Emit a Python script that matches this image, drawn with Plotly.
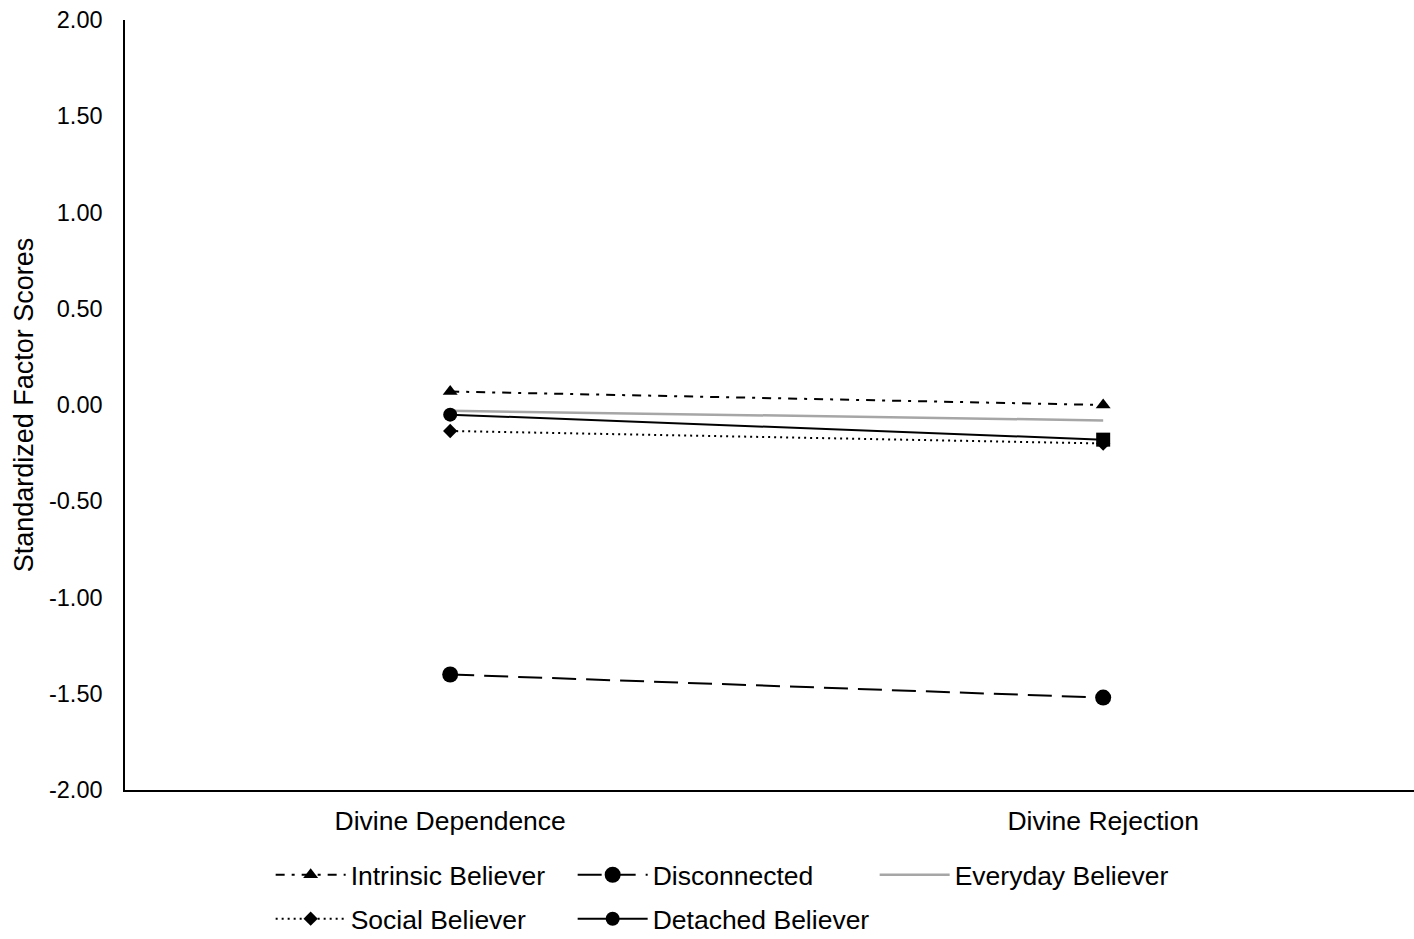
import plotly.graph_objects as go

categories = ["Divine Dependence", "Divine Rejection"]

intrinsic = [0.07, 0.00]
disconnected = [-1.40, -1.52]
everyday = [-0.03, -0.08]
social = [-0.135, -0.20]
detached = [-0.05, -0.18]

y_ticks = [-2.0, -1.5, -1.0, -0.5, 0.0, 0.5, 1.0, 1.5, 2.0]
y_tick_labels = [f"{v:.2f}" for v in y_ticks]

FONT = "Liberation Sans, Arial, sans-serif"
TEXT_SIZE = 26.5

fig = go.Figure()

fig.add_trace(go.Scatter(
    x=categories, y=intrinsic, name="Intrinsic Believer", mode="lines+markers",
    line=dict(color="black", width=2, dash="9px,7px,3px,7px"),
    marker=dict(symbol="triangle-up", size=13, color="black"),
    legend="legend",
))
fig.add_trace(go.Scatter(
    x=categories, y=disconnected, name="Disconnected", mode="lines+markers",
    line=dict(color="black", width=2, dash="24px,10px"),
    marker=dict(symbol="circle", size=16, color="black"),
    legend="legend",
))
fig.add_trace(go.Scatter(
    x=categories, y=everyday, name="Everyday Believer", mode="lines",
    line=dict(color="#a6a6a6", width=2.5),
    legend="legend",
))
fig.add_trace(go.Scatter(
    x=categories, y=social, name="Social Believer", mode="lines+markers",
    line=dict(color="black", width=2, dash="2px,4px"),
    marker=dict(symbol="diamond", size=11, color="black"),
    legend="legend2",
))
fig.add_trace(go.Scatter(
    x=categories, y=detached, name="Detached Believer", mode="lines+markers",
    line=dict(color="black", width=2),
    marker=dict(symbol=["circle", "square"], size=14, color="black"),
    legend="legend2",
))

legend_common = dict(
    orientation="h", xanchor="left", yanchor="middle",
    font=dict(family=FONT, size=TEXT_SIZE, color="black"),
    itemwidth=70, entrywidth=217, entrywidthmode="pixels",
    bgcolor="rgba(0,0,0,0)", tracegroupgap=0,
)

fig.update_layout(
    width=1414, height=939,
    margin=dict(l=125, r=0, t=20, b=149, autoexpand=False),
    paper_bgcolor="white", plot_bgcolor="white",
    font=dict(family=FONT, size=22, color="black"),
    showlegend=True,
    legend=dict(x=0.113, y=-0.1104, **legend_common),
    legend2=dict(x=0.113, y=-0.1675, **legend_common),
    xaxis=dict(
        type="category", range=[-0.498, 1.476],
        showgrid=False, zeroline=False,
        showline=True, linecolor="black", linewidth=2,
        ticks="", ticklabelstandoff=6,
        tickfont=dict(family=FONT, size=TEXT_SIZE, color="black"),
    ),
    yaxis=dict(
        range=[-2, 2], tickvals=y_ticks, ticktext=y_tick_labels,
        showgrid=False, zeroline=False,
        showline=True, linecolor="black", linewidth=1.5,
        ticks="", ticklabelstandoff=16,
        tickfont=dict(family=FONT, size=23.5, color="black"),
        title=dict(text="Standardized Factor Scores", standoff=8,
                   font=dict(family=FONT, size=27, color="black")),
    ),
)

fig.write_html("out.html")
